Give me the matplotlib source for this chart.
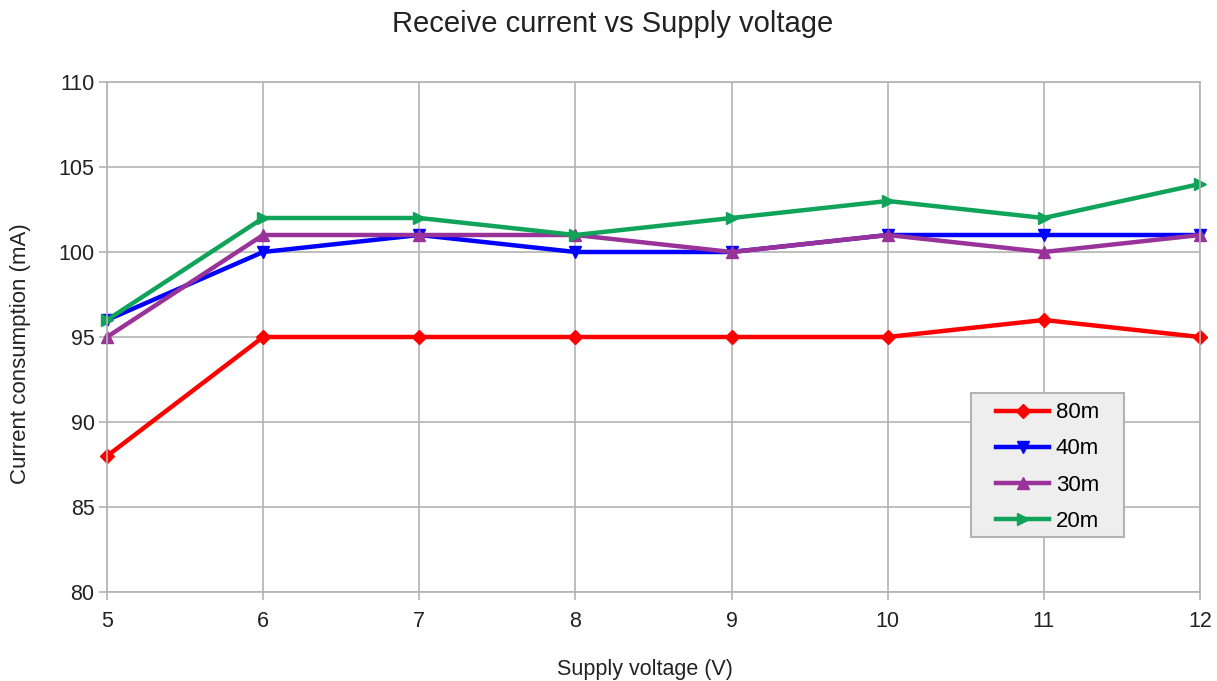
import matplotlib
matplotlib.use("Agg")
import matplotlib.pyplot as plt
from matplotlib.patches import Rectangle

plt.rcParams['font.family'] = ['Liberation Sans', 'DejaVu Sans']

voltage = [5, 6, 7, 8, 9, 10, 11, 12]
series_names = ["80m", "40m", "30m", "20m"]
cur_80m = [88, 95, 95, 95, 95, 95, 96, 95]
cur_40m = [96, 100, 101, 100, 100, 101, 101, 101]
cur_30m = [95, 101, 101, 101, 100, 101, 100, 101]
cur_20m = [96, 102, 102, 101, 102, 103, 102, 104]

colors = ["#ff0000", "#0000ff", "#993399", "#10a35a"]
markers = ["D", "v", "^", ">"]
msizes = [7, 9, 9, 9]
txt = "#222222"

W, H = 1217, 681
fig = plt.figure(figsize=(W/100, H/100), dpi=100)
ax = fig.add_axes([107/W, 1-592/H, (1200-107)/W, (592-82)/H])

for name, vals, c, m, ms in zip(series_names, [cur_80m, cur_40m, cur_30m, cur_20m], colors, markers, msizes):
    ax.plot(voltage, vals, color=c, marker=m, markersize=ms, linewidth=3.2, label=name, clip_on=False)

ax.set_xlim(5, 12)
ax.set_ylim(80, 110)
ax.set_xticks(voltage)
ax.set_yticks(range(80, 111, 5))
ax.grid(True, color="#b3b3b3", linewidth=1.2)
ax.set_axisbelow(True)
for s in ax.spines.values():
    s.set_color("#b3b3b3")
    s.set_linewidth(1.2)
ax.tick_params(axis='both', colors="#b3b3b3", labelcolor=txt, labelsize=15.5, length=6, width=1.2)
ax.tick_params(axis='x', pad=8)
ax.tick_params(axis='y', pad=3)

fig.text(0.503, 1-24/H, "Receive current vs Supply voltage", fontsize=21, color=txt, ha='center', va='center')
fig.text(645/W, 1-669/H, "Supply voltage (V)", fontsize=15.5, color=txt, ha='center', va='center')
fig.text(21/W, 1-354/H, "Current consumption (mA)", fontsize=16, color=txt, ha='center', va='center', rotation=90)

# legend box
box = Rectangle((971/W, 1-537/H), (1124-971)/W, (537-393)/H, transform=fig.transFigure,
                facecolor="#eeeeee", edgecolor="#b3b3b3", linewidth=1.5, zorder=5, clip_on=False)
ax.add_patch(box)
leg = ax.legend(loc='center', bbox_to_anchor=(1047.5/W, 1-467/H), bbox_transform=fig.transFigure,
                fontsize=16, frameon=False, handlelength=2.4, labelspacing=0.68, borderpad=0,
                handletextpad=0.3, borderaxespad=0)
leg.set_zorder(6)

fig.savefig("out.png", dpi=100)
